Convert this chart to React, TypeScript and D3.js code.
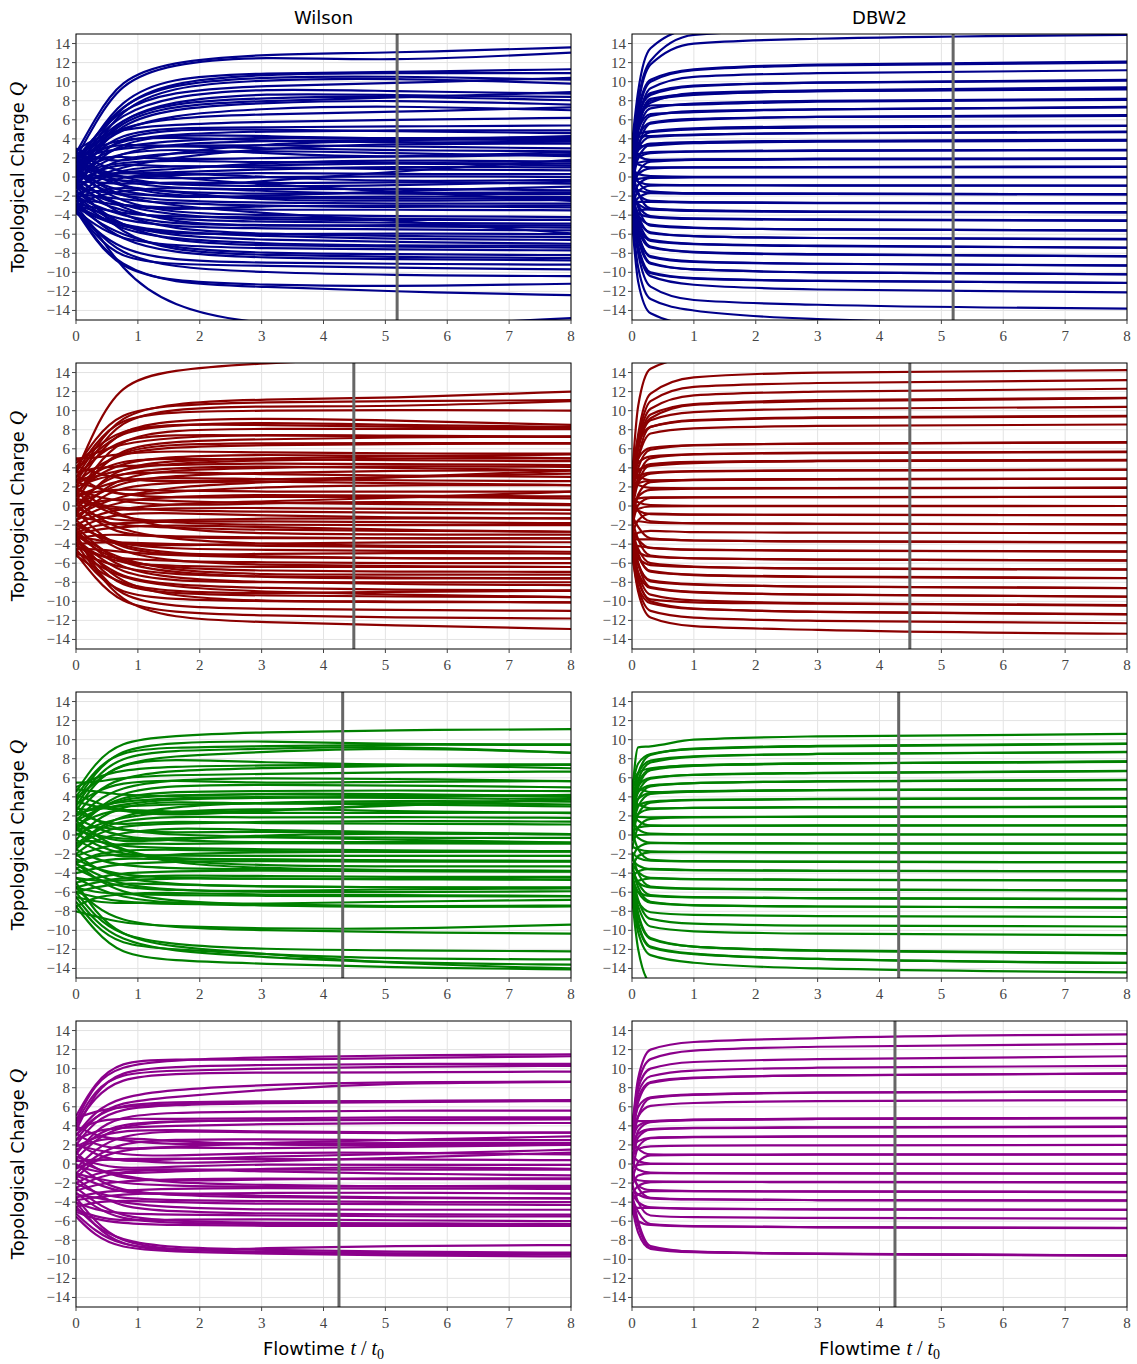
import React from 'react';
import * as d3 from 'd3';

const wilsonT = [0, 0.3, 0.7, 1.5, 3, 5, 8];
const dbw2T = [0, 0.1, 0.3, 1, 3, 8];

const xTicks = [0, 1, 2, 3, 4, 5, 6, 7, 8];
const yTicks = [-14, -12, -10, -8, -6, -4, -2, 0, 2, 4, 6, 8, 10, 12, 14];
const columnTitles = ['Wilson', 'DBW2'];
const vlineT = [5.19, 4.49, 4.31, 4.25];
const rowColors = ['#00008b', '#8b0000', '#008000', '#8b008b'];

const wilsonBlue = [
  [2.5, 6, 10.2, 12.1, 12.9, 13.0, 13.6],
  [2.0, 5.5, 9.8, 11.9, 12.7, 12.1, 13.05],
  [1.5, 4, 8, 10.5, 10.9, 11, 11.3],
  [1, 3.5, 7.5, 10, 10.8, 10.9, 10.9],
  [2, 4, 7.5, 9.8, 10.5, 10.6, 10.2],
  [0.5, 3, 7, 9.5, 10.2, 10.4, 9.8],
  [1.5, 3.8, 6.5, 8.5, 9.3, 9.0, 8.75],
  [0, 3, 6, 8, 8.8, 8.6, 8.4],
  [1, 3.5, 6, 7.8, 8.3, 8.5, 8.05],
  [-0.5, 2.5, 5.5, 7.2, 7.8, 8.1, 7.6],
  [0.5, 3, 5, 6.5, 7.2, 7.5, 7.0],
  [2.8, 4, 5, 5.5, 5.8, 6, 6.2],
  [0, 2.5, 4.5, 5.2, 5.2, 5.3, 5.4],
  [1, 2.5, 3.8, 4.5, 4.8, 4.9, 4.9],
  [-1, 1.5, 3.5, 4.5, 4.3, 4.0, 4.2],
  [0.5, 2, 3.2, 3.8, 4.2, 4.0, 3.85],
  [2, 2.8, 3.5, 3.2, 3.4, 3.2, 3.0],
  [-1.5, 0.5, 2, 2.5, 2.8, 2.5, 2.2],
  [1.5, 2, 2.2, 1.8, 2.0, 2.1, 2.6],
  [0, 1, 1.5, 1.8, 1.5, 1.5, 1.4],
  [-2, -0.5, 0.8, 1.2, 1.0, 0.8, 0.7],
  [1, 0.5, 0.3, 0.5, 0.8, 1.1, 1.0],
  [0, 0.2, 0, -0.2, 0, 0.1, 0],
  [-0.5, -0.5, -0.8, -0.5, -0.7, -0.5, -0.7],
  [2, 0.5, -0.5, -1.2, -1.3, -1.2, -1.4],
  [-1, -1.5, -1.8, -2.0, -2.2, -2.0, -2.1],
  [0.5, -1, -2, -2.5, -2.7, -2.8, -2.8],
  [-2.5, -2.5, -3, -3.2, -3.5, -3.4, -3.5],
  [1, -1, -2.5, -3.8, -4.0, -4.1, -4.2],
  [-1.5, -2.5, -3.5, -4.5, -4.7, -4.8, -4.9],
  [-3, -3.5, -4.5, -5.2, -5.4, -5.5, -5.6],
  [-0.5, -2, -4, -5.5, -6, -6.2, -6.3],
  [-2, -3.5, -5, -6.2, -6.6, -6.8, -7.0],
  [-3.5, -5, -6.5, -7.2, -7.5, -7.6, -7.7],
  [-3, -4.5, -6, -7.5, -8.0, -8.1, -8.2],
  [-2.5, -4.5, -6.5, -8, -8.5, -8.6, -8.75],
  [-3.5, -6, -8.5, -9.2, -9.3, -9.5, -9.7],
  [-3, -5.5, -8, -9.5, -10, -10.3, -10.4],
  [-3.5, -6.5, -9.5, -11, -11.3, -11.5, -11.2],
  [-3.2, -6.5, -9.2, -11.2, -11.5, -12, -12.4],
  [-3.8, -5.2, -9.5, -13.7, -15.6, -15.8, -14.8],
  [3, 2, 1.5, 2.5, 3.5, 3.8, 4.3],
  [-1, 0, 1, 2, 3, 3.5, 3.5],
  [1.5, 1, 0, -1, -0.5, 0.5, 1.8],
  [-2, -1, 0, 0.5, 0, -0.5, -0.3],
  [0.5, 1.5, 2.5, 3, 2.5, 2.0, 2.4],
  [-3, -2, -1.5, -1, -1.5, -1.8, -1.8],
  [2.5, 1.5, 0.5, 0, -0.8, -1.5, -2.5],
  [-1, -2, -3, -3.5, -3, -3.0, -3.2],
  [0, -1.5, -3, -4, -4.5, -4.5, -4.5],
  [-2, -3, -4, -5, -5, -5.2, -5.3],
  [1, -0.5, -2, -3, -3.8, -4.5, -5.9],
  [-3, -4, -5, -5.8, -6.2, -6.5, -6.6],
  [-1.5, -3, -5, -6.8, -7.2, -7.3, -7.4],
  [2, 3, 4, 4.2, 3.8, 3.6, 3.7],
  [0, 1, 2.5, 3.5, 3.8, 3.9, 4.0],
  [-0.5, 0.5, 1.5, 1.0, 1.2, 1.5, 1.2],
  [1.2, 0.8, -0.2, 0.2, 0.5, 0.3, 0.3],
  [-2.2, -1.5, -1.0, -1.5, -2.5, -2.5, -2.4],
  [0.8, -0.5, -1.5, -2.2, -2, -1.5, -1.0],
  [1.8, 4.2, 7.0, 9.0, 9.6, 9.8, 10.4],
  [0.2, 2.8, 5.8, 7.5, 8.0, 8.3, 8.9],
  [2.2, 3.5, 5.2, 6.2, 6.6, 6.8, 7.3],
  [-0.8, 1.8, 4.2, 5.0, 5.0, 4.8, 4.6],
  [1.6, 2.5, 3.0, 3.3, 3.0, 2.8, 2.7],
  [-1.2, 0.0, 0.5, 0.8, 1.5, 1.8, 1.6],
  [0.3, -0.2, -0.3, -0.8, -1.0, -0.9, -0.5],
  [-1.8, -2.0, -2.3, -2.8, -3.0, -3.2, -3.0],
  [2.6, 1.0, -1.0, -2.0, -2.2, -2.3, -2.2],
  [-2.8, -3.2, -3.8, -4.2, -4.2, -4.4, -4.5],
  [-0.2, -1.5, -3.2, -4.8, -5.2, -5.0, -5.1],
  [-3.2, -4.2, -5.2, -6.0, -6.0, -5.9, -6.0],
  [-2.2, -3.8, -5.5, -6.5, -7.0, -7.2, -7.2],
  [-1.0, -3.0, -5.8, -7.8, -8.2, -8.4, -8.5],
  [-3.6, -5.5, -7.5, -8.8, -9.0, -9.1, -9.2],
  [1.3, 0.2, -1.0, -1.6, -1.8, -1.7, -1.6],
];

const dbw2Blue = [
  [3.5, 9, 13.5, 15.6, 16.2, 16.6],
  [2.8, 8, 12.2, 14.9, 15.5, 15.9],
  [2.2, 7.5, 11.8, 14.0, 14.5, 14.9],
  [3.0, 7, 10.2, 11.3, 11.8, 12.1],
  [1.8, 6.5, 10.0, 11.2, 11.7, 12.0],
  [2.5, 6, 9.3, 10.5, 10.9, 11.2],
  [1.5, 6, 8.8, 9.6, 9.9, 10.2],
  [3.2, 6.5, 8.6, 9.5, 9.9, 10.1],
  [2.0, 5.5, 8.2, 8.7, 9.0, 9.3],
  [0.8, 5, 8.0, 8.6, 9.0, 9.2],
  [2.6, 5.8, 7.8, 8.8, 9.1, 9.4],
  [1.2, 4.8, 7.2, 7.7, 8.0, 8.2],
  [3.5, 6, 7.5, 7.6, 7.9, 8.1],
  [0.5, 4, 6.4, 6.9, 7.1, 7.35],
  [2.2, 5, 6.6, 6.8, 7.1, 7.3],
  [1.6, 4.2, 5.7, 6.1, 6.3, 6.5],
  [-0.5, 3, 5.6, 6.0, 6.3, 6.4],
  [2.8, 4.5, 4.8, 5.1, 5.3, 5.4],
  [0.2, 3.5, 4.7, 5.0, 5.2, 5.35],
  [1.0, 3, 4.2, 4.4, 4.6, 4.7],
  [3.8, 4.2, 4.3, 4.45, 4.6, 4.75],
  [-1.0, 2, 3.4, 3.6, 3.75, 3.85],
  [1.4, 2.8, 3.5, 3.65, 3.8, 3.9],
  [2.9, 3.2, 3.3, 3.55, 3.7, 3.8],
  [-0.3, 2, 2.5, 2.65, 2.75, 2.8],
  [1.5, 2.4, 2.6, 2.7, 2.8, 2.85],
  [-2.0, 0.5, 1.6, 1.8, 1.85, 1.9],
  [0.8, 1.5, 1.7, 1.8, 1.9, 1.95],
  [3.0, 2.2, 1.8, 1.85, 1.9, 1.9],
  [-1.2, 0.3, 0.9, 1.0, 1.02, 1.05],
  [2.0, 1.3, 1.0, 1.0, 1.05, 1.1],
  [-0.8, -0.2, -0.05, 0, 0, 0],
  [1.0, 0.3, 0.1, 0.02, 0.02, 0.02],
  [-2.5, -0.8, -0.1, -0.05, -0.05, -0.05],
  [0.5, -0.5, -0.8, -0.85, -0.88, -0.9],
  [-3.0, -1.5, -0.9, -0.88, -0.9, -0.92],
  [-1.0, -1.4, -1.65, -1.72, -1.76, -1.8],
  [1.8, -0.5, -1.5, -1.7, -1.75, -1.82],
  [-3.5, -2.2, -1.7, -1.75, -1.78, -1.8],
  [-0.5, -1.8, -2.5, -2.62, -2.7, -2.75],
  [-2.8, -2.6, -2.6, -2.7, -2.75, -2.78],
  [0.5, -1.6, -3.3, -3.5, -3.62, -3.7],
  [-2.0, -2.8, -3.4, -3.55, -3.65, -3.72],
  [-3.8, -3.5, -3.4, -3.55, -3.65, -3.68],
  [-1.5, -3, -4.1, -4.35, -4.45, -4.55],
  [-3.2, -3.8, -4.2, -4.4, -4.5, -4.6],
  [-2.5, -4, -5.0, -5.3, -5.5, -5.6],
  [-0.8, -3.2, -5.1, -5.35, -5.5, -5.62],
  [-3.0, -4.5, -5.8, -6.2, -6.4, -6.5],
  [-1.8, -4, -5.9, -6.2, -6.4, -6.55],
  [-3.6, -5.2, -6.7, -7.05, -7.25, -7.4],
  [-2.2, -4.5, -6.6, -7.0, -7.2, -7.42],
  [-3.0, -5.5, -7.4, -7.9, -8.15, -8.3],
  [-1.5, -4.8, -7.3, -7.85, -8.1, -8.32],
  [-3.8, -6.2, -8.3, -8.85, -9.1, -9.3],
  [-2.6, -5.8, -8.4, -8.9, -9.1, -9.28],
  [-3.2, -6.5, -9.1, -9.7, -10.0, -10.2],
  [-2.0, -6, -9.0, -9.7, -10.0, -10.22],
  [-3.5, -7.2, -10.0, -10.6, -10.9, -11.1],
  [-4.0, -7.5, -10.1, -10.65, -10.9, -11.12],
  [-3.3, -7.5, -10.4, -11.3, -11.8, -12.1],
  [-3.7, -8, -11.5, -12.9, -13.4, -13.8],
  [-4.2, -9.5, -12.8, -14.0, -14.9, -15.5],
  [-4.5, -11, -14.3, -15.5, -16, -16.3],
];

const wilsonRed = [
  [3.5, 8.0, 12.8, 14.3, 15.0, 15.5, 16.0],
  [3.0, 6.0, 9.5, 10.8, 11.2, 11.3, 12.0],
  [4.0, 7.0, 9.8, 10.6, 10.9, 11.0, 11.1],
  [2.5, 5.5, 9.0, 10.2, 10.5, 10.4, 11.0],
  [3.5, 6.5, 9.2, 9.9, 10.0, 10.1, 10.0],
  [2.0, 5.0, 8.0, 9.0, 9.2, 9.0, 8.5],
  [4.5, 6.0, 8.0, 8.6, 8.5, 8.3, 8.2],
  [1.0, 4.0, 7.0, 8.0, 8.1, 8.1, 8.05],
  [3.0, 5.0, 7.0, 7.5, 7.4, 7.3, 7.25],
  [0.5, 3.5, 6.0, 6.8, 7.0, 7.2, 7.3],
  [2.5, 4.0, 5.5, 6.2, 6.4, 6.5, 6.55],
  [5.0, 5.0, 5.5, 5.8, 5.6, 5.5, 5.5],
  [1.5, 3.0, 4.5, 5.2, 5.4, 5.3, 5.0],
  [-0.5, 2.0, 4.0, 4.8, 5.0, 5.2, 5.4],
  [3.5, 4.0, 4.2, 4.3, 4.5, 4.4, 4.3],
  [0.0, 2.0, 3.5, 4.0, 4.2, 4.0, 3.75],
  [2.0, 2.8, 3.4, 3.6, 3.3, 3.2, 3.05],
  [4.2, 3.5, 2.8, 2.5, 2.8, 3.0, 3.4],
  [-1.5, 0.5, 2.0, 2.5, 2.6, 2.4, 2.2],
  [1.0, 1.5, 1.8, 1.6, 1.5, 1.5, 1.5],
  [2.5, 2.0, 1.2, 0.8, 1.0, 1.0, 0.8],
  [-0.5, 0.5, 0.8, 0.5, 0.3, 0.2, 0.1],
  [0.8, 0.2, -0.2, -0.5, -0.6, -0.7, -0.8],
  [-2.5, -1.5, -0.8, -0.7, -1.0, -1.2, -1.3],
  [1.5, 0.0, -1.2, -1.8, -2.0, -2.0, -2.0],
  [-1.0, -1.5, -2.0, -2.3, -2.5, -2.6, -2.7],
  [-3.5, -3.0, -3.0, -3.2, -3.3, -3.4, -3.4],
  [0.5, -1.0, -2.5, -3.5, -4.0, -4.2, -4.3],
  [-2.0, -3.0, -4.0, -4.5, -4.6, -4.7, -4.8],
  [-4.5, -4.5, -4.8, -5.2, -5.4, -5.5, -5.5],
  [-1.5, -3.0, -4.8, -5.8, -6.2, -6.3, -6.4],
  [-3.0, -4.5, -5.8, -6.5, -6.8, -6.9, -6.9],
  [-5.0, -5.5, -6.5, -7.2, -7.4, -7.5, -7.6],
  [-2.5, -4.5, -6.5, -7.6, -8.0, -8.2, -8.3],
  [-4.0, -5.5, -7.5, -8.3, -8.6, -8.8, -8.85],
  [-3.5, -6.0, -8.5, -9.2, -9.4, -9.5, -9.55],
  [-4.5, -7.0, -9.2, -9.8, -10.0, -10.1, -10.1],
  [-3.0, -6.5, -9.5, -10.6, -10.8, -10.9, -11.0],
  [-5.0, -7.5, -10.2, -11.2, -11.5, -11.7, -11.8],
  [-4.0, -6.5, -10.0, -11.8, -12.2, -12.5, -12.9],
  [2.8, 3.0, 3.8, 4.5, 4.8, 5.0, 5.0],
  [-1.0, 0.0, 1.0, 2.0, 2.5, 3.0, 3.7],
  [1.8, 1.0, 0.5, 0.0, 0.3, 0.5, 0.2],
  [-2.0, -1.0, -0.3, 0.2, 0.5, 0.8, 1.5],
  [3.2, 2.0, 1.0, 1.5, 2.0, 2.2, 2.2],
  [-0.2, -1.0, -1.6, -1.5, -1.3, -1.3, -1.3],
  [-3.0, -2.5, -2.2, -2.0, -2.2, -2.5, -2.7],
  [0.2, -1.5, -3.0, -3.3, -3.4, -3.4, -3.4],
  [-4.0, -3.8, -3.8, -4.0, -4.2, -4.3, -4.3],
  [-1.8, -3.0, -4.2, -5.0, -5.3, -5.5, -5.5],
  [-3.8, -5.0, -6.0, -6.3, -6.4, -6.4, -6.4],
  [-2.2, -4.0, -6.0, -7.0, -7.5, -7.6, -7.6],
  [4.8, 5.5, 6.5, 7.2, 7.5, 7.4, 7.25],
  [0.2, 1.0, 2.5, 3.2, 3.5, 3.7, 3.75],
  [-4.8, -6.0, -7.5, -8.5, -9.0, -9.3, -9.55],
  [-3.2, -5.5, -8.0, -9.5, -10.0, -10.0, -10.1],
  [3.8, 5.5, 7.8, 8.5, 8.8, 8.5, 8.3],
  [1.2, 3.5, 5.8, 6.5, 6.6, 6.6, 6.6],
  [2.2, 3.5, 4.8, 5.0, 4.9, 4.8, 4.7],
  [-0.8, 1.0, 3.0, 3.8, 4.0, 4.2, 4.1],
  [1.0, 1.8, 2.8, 3.0, 2.8, 2.7, 2.6],
  [-1.5, -0.5, 0.5, 1.0, 1.2, 1.1, 1.0],
  [0.6, 0.0, -0.5, -0.2, -0.2, -0.3, -0.4],
  [-2.8, -2.0, -1.8, -1.6, -1.6, -1.7, -1.8],
  [2.0, 0.5, -1.0, -2.5, -2.9, -3.0, -3.0],
  [-3.2, -3.5, -4.0, -4.2, -3.9, -3.8, -3.8],
  [-0.5, -2.5, -4.5, -5.2, -5.0, -4.9, -5.0],
  [-4.2, -5.2, -5.5, -5.8, -5.9, -6.0, -6.0],
  [-2.8, -4.2, -5.5, -6.8, -7.2, -7.2, -7.2],
  [-3.5, -5.0, -7.0, -7.9, -8.0, -8.0, -8.0],
  [-5.2, -6.5, -8.2, -9.0, -9.2, -9.0, -8.9],
];

const dbw2Red = [
  [3.0, 10.5, 14.4, 15.6, 16.0, 16.3],
  [2.5, 7.5, 11.8, 13.5, 14.0, 14.25],
  [3.5, 7.2, 11.0, 12.5, 12.9, 13.2],
  [2.0, 6.5, 10.2, 11.6, 12.0, 12.3],
  [1.2, 6, 9.6, 10.7, 11.1, 11.35],
  [3.0, 6.5, 9.2, 10.6, 11.0, 11.3],
  [2.6, 6, 9.0, 9.85, 10.2, 10.4],
  [0.8, 5, 8.3, 9.0, 9.3, 9.45],
  [3.8, 6.5, 8.3, 8.95, 9.25, 9.4],
  [2.2, 5, 7.6, 8.15, 8.4, 8.55],
  [1.5, 4, 5.9, 6.35, 6.55, 6.65],
  [3.2, 5, 6.1, 6.4, 6.55, 6.7],
  [0.5, 3, 5.0, 5.4, 5.55, 5.65],
  [2.8, 4.5, 5.2, 5.45, 5.6, 5.7],
  [-0.5, 2.5, 4.3, 4.6, 4.72, 4.8],
  [1.8, 3.6, 4.4, 4.62, 4.75, 4.85],
  [3.6, 3.8, 4.2, 4.5, 4.7, 4.78],
  [0.2, 2.5, 3.4, 3.62, 3.72, 3.8],
  [2.4, 3.1, 3.5, 3.65, 3.75, 3.82],
  [-1.5, 1.2, 2.5, 2.72, 2.8, 2.85],
  [1.6, 2.4, 2.65, 2.75, 2.82, 2.88],
  [4.2, 3.2, 2.7, 2.75, 2.82, 2.86],
  [-0.8, 1, 1.7, 1.82, 1.87, 1.9],
  [2.8, 2.2, 1.9, 1.85, 1.88, 1.92],
  [0.6, 0.8, 0.9, 0.92, 0.94, 0.95],
  [-2.2, 0.1, 0.85, 0.9, 0.93, 0.96],
  [1.0, 0.4, 0.1, 0.02, 0.01, 0],
  [-1.2, -0.3, -0.05, -0.02, -0.01, 0],
  [-3.0, -1.5, -0.8, -0.9, -0.93, -0.95],
  [0.3, -0.5, -0.85, -0.9, -0.93, -0.96],
  [-2.0, -1.6, -1.75, -1.82, -1.86, -1.9],
  [1.5, -0.5, -1.6, -1.8, -1.86, -1.92],
  [-4.0, -2.8, -2.6, -2.75, -2.8, -2.85],
  [-1.0, -2.2, -3.4, -3.62, -3.72, -3.8],
  [-3.5, -3.5, -3.5, -3.62, -3.72, -3.82],
  [-2.5, -3.5, -4.4, -4.6, -4.7, -4.75],
  [-4.5, -4.2, -4.4, -4.58, -4.68, -4.78],
  [-1.5, -3.5, -5.2, -5.48, -5.62, -5.7],
  [-3.8, -4.8, -5.3, -5.5, -5.62, -5.72],
  [-2.8, -4.5, -6.0, -6.35, -6.55, -6.65],
  [-4.8, -5.5, -6.2, -6.4, -6.56, -6.68],
  [-3.2, -5.2, -6.8, -7.2, -7.4, -7.55],
  [-2.0, -5, -6.9, -7.25, -7.45, -7.58],
  [-4.2, -6.2, -7.8, -8.2, -8.45, -8.6],
  [-3.0, -6, -7.9, -8.25, -8.45, -8.62],
  [-4.6, -7, -8.6, -9.05, -9.3, -9.5],
  [-2.5, -6, -8.5, -9.0, -9.3, -9.52],
  [-3.8, -7, -9.3, -9.9, -10.2, -10.4],
  [-4.4, -7.8, -9.8, -10.1, -10.25, -10.45],
  [-3.5, -7.5, -10.0, -10.75, -11.1, -11.35],
  [-4.8, -8.5, -10.2, -10.8, -11.1, -11.38],
  [-4.0, -8.5, -11.0, -11.7, -12.05, -12.3],
  [-5.0, -9, -11.7, -12.6, -13.0, -13.4],
];

const wilsonGreen = [
  [4.5, 7.5, 9.8, 10.4, 10.8, 11.0, 11.1],
  [3.5, 6.5, 9.0, 9.7, 9.9, 9.5, 9.5],
  [4.0, 6.8, 8.8, 9.2, 9.3, 9.5, 9.45],
  [3.0, 6.0, 8.2, 8.9, 9.0, 9.4, 8.6],
  [2.5, 5.5, 7.5, 8.3, 8.7, 9.2, 8.65],
  [5.0, 6.0, 6.8, 7.2, 7.3, 7.4, 7.4],
  [2.0, 4.5, 6.0, 6.8, 7.0, 7.3, 7.35],
  [5.5, 5.5, 6.0, 6.3, 6.4, 6.6, 6.65],
  [1.5, 3.5, 5.0, 5.8, 6.0, 5.9, 5.65],
  [3.2, 4.5, 5.5, 5.8, 5.4, 5.6, 5.65],
  [0.5, 2.5, 4.0, 4.6, 4.6, 4.7, 4.6],
  [4.8, 4.6, 4.2, 4.0, 4.4, 4.3, 4.1],
  [2.0, 3.0, 3.5, 3.9, 4.0, 3.9, 3.75],
  [-0.5, 1.5, 3.0, 3.6, 3.2, 3.4, 3.2],
  [3.5, 3.0, 2.5, 2.2, 2.6, 3.0, 3.8],
  [1.0, 2.0, 2.8, 2.4, 2.3, 2.3, 2.35],
  [-1.5, 0.5, 1.5, 2.0, 1.8, 1.9, 1.8],
  [2.5, 1.5, 1.0, 1.5, 1.2, 1.2, 1.1],
  [0.5, 1.0, 0.5, 0.2, 0.4, 0.2, 0.05],
  [-2.0, -0.5, 0.2, 0.8, 0.5, 0.3, 0.1],
  [1.8, 0.8, -0.2, -0.6, -0.8, -0.7, -0.8],
  [-0.8, -0.5, -1.2, -1.4, -1.5, -1.6, -1.7],
  [-3.0, -2.0, -1.6, -1.5, -1.7, -1.8, -1.7],
  [0.2, -1.0, -2.0, -2.5, -2.6, -2.7, -2.75],
  [-4.0, -3.5, -3.0, -2.8, -2.7, -2.8, -2.8],
  [-1.5, -2.5, -3.2, -3.5, -3.6, -3.7, -3.8],
  [-5.0, -4.5, -4.0, -3.8, -3.7, -3.8, -3.85],
  [-2.5, -3.5, -4.2, -4.5, -4.6, -4.6, -4.65],
  [-6.0, -5.5, -5.0, -5.2, -5.4, -5.5, -5.55],
  [-3.5, -4.5, -5.5, -5.8, -5.9, -5.7, -5.6],
  [-7.5, -6.5, -6.2, -6.0, -6.3, -6.3, -6.4],
  [-4.5, -5.5, -6.5, -7.2, -7.4, -7.5, -7.45],
  [-6.5, -7.0, -7.2, -7.0, -7.4, -7.6, -7.5],
  [-8.0, -8.5, -9.2, -9.6, -9.8, -9.9, -9.4],
  [-5.5, -7.5, -9.0, -9.7, -10.0, -10.2, -10.35],
  [-6.0, -8.5, -10.5, -11.5, -12.0, -12.1, -12.2],
  [-7.0, -9.5, -11.5, -12.0, -12.5, -13.0, -13.05],
  [-6.5, -9.0, -11.0, -12.2, -12.8, -13.4, -13.6],
  [-7.5, -10.0, -12.5, -13.2, -13.5, -13.9, -14.1],
  [-5.0, -8.0, -10.5, -11.8, -12.4, -13.5, -14.0],
  [2.8, 2.5, 3.2, 3.8, 3.9, 4.0, 4.2],
  [-1.0, 0.5, 2.0, 3.0, 3.4, 3.6, 3.5],
  [1.2, 0.0, -0.8, -0.5, 0.0, 0.2, 0.1],
  [-2.2, -1.5, -0.8, -1.0, -0.8, -0.9, -0.9],
  [3.0, 1.5, 0.5, 0.0, -0.2, -0.5, -0.8],
  [-0.5, -1.5, -2.5, -2.0, -1.8, -1.7, -1.75],
  [-3.5, -2.8, -2.4, -2.6, -2.5, -2.7, -2.7],
  [0.8, -0.5, -1.5, -3.0, -3.5, -3.7, -3.75],
  [-4.5, -4.8, -4.8, -4.5, -4.6, -4.65, -4.7],
  [-2.0, -3.5, -4.5, -5.2, -5.4, -5.5, -5.5],
  [-5.5, -6.0, -6.2, -6.3, -6.4, -6.4, -6.45],
  [-3.0, -4.5, -6.0, -7.0, -7.3, -7.5, -7.4],
  [1.5, 2.5, 3.8, 4.2, 4.3, 4.2, 4.0],
  [4.2, 3.5, 2.5, 2.0, 2.5, 3.2, 3.7],
  [0.0, 1.0, 1.8, 2.5, 2.8, 2.5, 2.3],
  [3.8, 5.5, 7.5, 8.0, 7.6, 7.4, 7.0],
  [0.8, 2.5, 4.5, 5.2, 5.3, 5.2, 5.0],
  [2.2, 2.8, 3.0, 3.2, 3.4, 3.2, 3.0],
  [-1.2, 0.0, 1.0, 1.2, 1.4, 1.5, 1.4],
  [0.5, 0.0, -0.5, -0.3, -0.2, -0.3, -0.3],
  [-2.8, -2.2, -2.0, -2.2, -2.2, -2.2, -2.2],
  [1.5, 0.0, -1.5, -2.8, -3.2, -3.3, -3.3],
  [-5.5, -5.0, -4.5, -4.2, -4.3, -4.4, -4.4],
  [-3.0, -4.0, -5.2, -5.8, -6.0, -6.0, -5.9],
  [-6.0, -6.5, -7.0, -7.3, -7.2, -7.0, -6.8],
];

const dbw2Green = [
  [4.0, 9.2, 9.3, 10.0, 10.35, 10.6],
  [3.0, 6.5, 8.4, 9.05, 9.35, 9.6],
  [5.0, 7.5, 8.5, 9.0, 9.3, 9.55],
  [2.5, 5.8, 7.6, 8.2, 8.5, 8.7],
  [4.5, 6.5, 7.8, 8.25, 8.5, 8.72],
  [1.5, 5, 6.8, 7.25, 7.5, 7.7],
  [3.5, 5.5, 6.9, 7.3, 7.5, 7.72],
  [5.5, 6.5, 7.0, 7.3, 7.52, 7.68],
  [2.0, 4.5, 5.9, 6.3, 6.5, 6.7],
  [4.2, 5.2, 6.0, 6.32, 6.52, 6.72],
  [1.0, 3.8, 5.1, 5.45, 5.62, 5.75],
  [3.0, 4.5, 5.2, 5.45, 5.62, 5.78],
  [0.5, 3, 4.3, 4.55, 4.7, 4.8],
  [2.6, 3.8, 4.4, 4.58, 4.7, 4.82],
  [4.8, 4.8, 4.5, 4.6, 4.72, 4.8],
  [-0.5, 2.2, 3.4, 3.65, 3.76, 3.85],
  [2.0, 3.1, 3.5, 3.68, 3.78, 3.87],
  [1.2, 2.2, 2.7, 2.84, 2.9, 2.95],
  [3.5, 3.2, 2.8, 2.86, 2.92, 2.97],
  [-1.5, 0.8, 1.7, 1.86, 1.91, 1.95],
  [1.5, 1.9, 1.85, 1.88, 1.92, 1.96],
  [0.2, 0.8, 0.95, 0.97, 0.99, 1.0],
  [2.5, 1.5, 1.0, 0.98, 1.0, 1.02],
  [-0.6, 0, 0.05, 0.05, 0.05, 0.05],
  [1.8, 0.6, 0.15, 0.08, 0.06, 0.05],
  [-2.5, -1.3, -0.85, -0.87, -0.89, -0.9],
  [0.6, -0.3, -0.8, -0.86, -0.89, -0.92],
  [-1.2, -1.5, -1.72, -1.78, -1.82, -1.85],
  [-3.5, -2.2, -1.8, -1.8, -1.83, -1.86],
  [-1.8, -2.4, -2.7, -2.77, -2.82, -2.85],
  [0.5, -1.5, -2.6, -2.75, -2.8, -2.86],
  [-4.5, -3.8, -3.55, -3.68, -3.75, -3.8],
  [-2.5, -3.2, -3.6, -3.7, -3.76, -3.82],
  [-3.0, -3.9, -4.5, -4.62, -4.7, -4.75],
  [-5.0, -4.8, -4.55, -4.64, -4.7, -4.77],
  [-2.0, -4, -5.4, -5.62, -5.72, -5.8],
  [-4.0, -5, -5.5, -5.65, -5.74, -5.82],
  [-3.5, -5, -6.3, -6.52, -6.62, -6.7],
  [-5.5, -6, -6.4, -6.55, -6.64, -6.72],
  [-4.5, -6, -7.1, -7.38, -7.5, -7.6],
  [-3.0, -5.5, -7.0, -7.35, -7.5, -7.62],
  [-5.0, -7, -8.1, -8.38, -8.5, -8.6],
  [-4.0, -6.8, -8.8, -9.3, -9.5, -9.6],
  [-5.2, -7.5, -9.6, -10.1, -10.35, -10.5],
  [-5.5, -8.5, -10.9, -11.7, -12.1, -12.4],
  [-4.8, -8.2, -10.8, -11.7, -12.15, -12.45],
  [-6.0, -9.5, -11.8, -12.5, -13.0, -13.4],
  [-5.0, -9.2, -11.7, -12.45, -13.0, -13.42],
  [-6.2, -10.2, -12.6, -13.4, -14.0, -14.4],
  [-6.5, -12, -15.5, -16.5, -17, -17],
];

const wilsonPurple = [
  [4.5, 8.5, 10.3, 10.9, 11.2, 11.4, 11.5],
  [5.0, 8.5, 10.8, 11.0, 10.9, 11.1, 11.3],
  [3.5, 7.5, 9.8, 10.2, 10.4, 10.5, 10.5],
  [4.0, 7.0, 9.0, 9.5, 9.6, 9.6, 9.7],
  [2.5, 5.0, 6.5, 7.0, 7.8, 8.5, 8.6],
  [3.0, 5.5, 7.0, 7.8, 8.3, 8.6, 8.65],
  [2.0, 4.5, 5.8, 6.2, 6.4, 6.5, 6.6],
  [4.8, 5.5, 6.0, 6.3, 6.5, 6.6, 6.7],
  [1.0, 3.5, 5.0, 5.4, 5.5, 5.6, 5.6],
  [3.5, 4.5, 4.8, 4.7, 4.8, 4.9, 4.9],
  [0.5, 2.5, 4.0, 4.5, 4.6, 4.6, 4.7],
  [2.5, 3.5, 3.8, 4.0, 4.2, 4.3, 4.3],
  [-0.5, 1.5, 3.0, 3.5, 3.3, 3.2, 3.3],
  [4.0, 3.0, 2.5, 2.0, 2.2, 2.5, 2.9],
  [1.5, 2.5, 2.8, 2.4, 2.0, 2.0, 2.0],
  [-1.5, 0.5, 1.5, 1.8, 1.6, 1.8, 2.0],
  [2.0, 1.5, 1.0, 0.8, 1.2, 1.2, 1.0],
  [-0.5, 0.5, 0.5, 0.0, 0.3, 0.6, 1.2],
  [0.8, 0.0, -0.5, -0.3, 0.0, -0.1, -0.1],
  [-2.5, -1.5, -0.8, -0.5, -0.8, -1.0, -1.2],
  [1.2, -0.5, -1.5, -1.8, -1.6, -1.5, -1.5],
  [-1.0, -1.5, -2.0, -2.3, -2.4, -2.3, -2.3],
  [-3.5, -3.0, -2.8, -2.6, -2.5, -2.6, -2.6],
  [0.0, -1.5, -2.8, -3.3, -3.5, -3.6, -3.6],
  [-2.0, -3.0, -3.6, -3.8, -3.9, -4.0, -4.0],
  [-4.5, -4.0, -3.8, -4.0, -4.2, -4.2, -4.3],
  [-1.5, -3.0, -4.5, -5.0, -5.2, -5.3, -5.3],
  [-4.0, -4.8, -5.2, -5.3, -5.4, -5.5, -5.5],
  [-3.0, -4.5, -5.8, -6.2, -6.3, -6.3, -6.4],
  [-5.0, -5.8, -6.2, -6.4, -6.5, -6.5, -6.5],
  [-4.5, -6.5, -8.0, -8.8, -9.0, -9.2, -9.3],
  [-3.5, -6.0, -8.2, -9.0, -9.3, -9.5, -9.5],
  [-5.5, -7.5, -8.8, -9.2, -9.4, -9.6, -9.7],
  [-4.0, -6.5, -8.5, -9.2, -8.8, -8.6, -8.5],
  [2.2, 1.0, 0.2, 0.5, 0.8, 1.0, 1.5],
  [-0.2, -0.8, -1.0, -0.8, -0.5, -0.3, -0.5],
  [3.2, 2.0, 1.5, 1.8, 2.2, 2.2, 2.2],
  [-2.8, -2.2, -1.8, -1.6, -1.5, -1.6, -1.6],
  [1.8, 2.8, 3.5, 3.6, 3.4, 3.3, 3.3],
  [-3.8, -3.5, -3.2, -3.0, -3.4, -3.5, -3.6],
  [0.5, -0.5, -1.2, -2.0, -2.2, -2.4, -2.4],
  [-1.2, -2.0, -3.0, -3.2, -3.0, -3.0, -3.1],
  [4.2, 7.8, 9.5, 9.8, 10.0, 10.2, 10.3],
  [3.0, 5.0, 6.2, 6.5, 6.6, 6.6, 6.65],
  [1.2, 3.0, 4.2, 4.5, 4.6, 4.7, 4.7],
  [-1.0, 0.8, 2.2, 2.6, 2.6, 2.5, 2.5],
  [0.3, 0.5, 0.5, 0.6, 0.5, 0.5, 0.4],
  [-2.0, -1.0, -0.5, -0.6, -0.6, -0.6, -0.6],
  [-3.2, -3.5, -4.0, -4.6, -4.8, -4.8, -4.8],
  [-4.8, -5.5, -6.0, -5.8, -5.8, -5.9, -6.0],
  [-2.5, -4.0, -5.5, -6.0, -6.2, -6.2, -6.3],
  [-5.2, -7.0, -8.5, -9.0, -9.2, -9.4, -9.4],
];

const dbw2Purple = [
  [3.5, 9, 12.0, 12.8, 13.2, 13.6],
  [3.0, 8.5, 11.0, 11.9, 12.3, 12.6],
  [2.5, 8, 10.0, 10.7, 11.0, 11.3],
  [4.0, 7.5, 9.2, 9.8, 10.1, 10.3],
  [2.0, 6.5, 8.5, 9.0, 9.3, 9.5],
  [3.8, 7, 8.6, 9.05, 9.3, 9.48],
  [3.0, 6, 7.0, 7.3, 7.5, 7.6],
  [1.8, 5, 6.9, 7.25, 7.48, 7.62],
  [2.6, 5, 6.1, 6.4, 6.6, 6.7],
  [0.5, 3.5, 4.4, 4.6, 4.72, 4.8],
  [2.5, 4.0, 4.5, 4.62, 4.74, 4.82],
  [4.2, 4.5, 4.5, 4.65, 4.75, 4.85],
  [0.0, 2.8, 3.6, 3.75, 3.83, 3.9],
  [2.0, 3.2, 3.65, 3.78, 3.85, 3.92],
  [-1.0, 1.8, 2.7, 2.82, 2.88, 2.92],
  [1.5, 2.4, 2.75, 2.84, 2.9, 2.95],
  [0.8, 1.6, 1.85, 1.92, 1.96, 2.0],
  [-1.8, 0.2, 0.9, 0.95, 0.98, 1.0],
  [2.4, 1.6, 1.0, 0.98, 1.0, 1.02],
  [-0.5, -0.1, 0, 0, 0, 0],
  [1.0, 0.3, 0.05, 0.02, 0.01, 0.01],
  [-2.2, -1.2, -0.95, -0.97, -0.99, -1.0],
  [0.4, -0.6, -0.9, -0.96, -0.99, -1.02],
  [-1.4, -1.7, -1.82, -1.86, -1.88, -1.9],
  [-3.2, -2.3, -1.9, -1.88, -1.9, -1.92],
  [-1.0, -2.3, -2.75, -2.84, -2.88, -2.92],
  [-3.8, -3.2, -2.85, -2.86, -2.9, -2.94],
  [-2.5, -3.2, -3.6, -3.72, -3.78, -3.82],
  [-0.5, -2.5, -3.55, -3.7, -3.78, -3.84],
  [-3.0, -4, -4.55, -4.68, -4.75, -4.8],
  [-4.5, -4.6, -4.6, -4.7, -4.76, -4.82],
  [-2.0, -4, -5.4, -5.58, -5.66, -5.72],
  [-3.6, -5, -6.3, -6.52, -6.62, -6.7],
  [-5.0, -6, -6.4, -6.55, -6.64, -6.72],
  [-4.0, -6.5, -8.8, -9.2, -9.4, -9.6],
  [-4.5, -7.2, -8.9, -9.25, -9.42, -9.62],
  [-3.2, -6.0, -8.6, -9.2, -9.42, -9.58],
];

const rows = [
  [wilsonBlue, dbw2Blue],
  [wilsonRed, dbw2Red],
  [wilsonGreen, dbw2Green],
  [wilsonPurple, dbw2Purple],
];
const knotSets = [wilsonT, dbw2T];
const curves = [d3.curveBasis, d3.curveMonotoneX];

const W = 1137;
const H = 1364;
const colX = [76, 632];
const rowY = [34, 363, 692, 1021];
const PW = 495;
const PH = 286;

const sans = "'DejaVu Sans', sans-serif";
const serif = "'Liberation Serif', 'DejaVu Serif', serif";

const fmt = (v: number) => (v < 0 ? '\u2212' + Math.abs(v) : String(v));

export default function App() {
  const x = d3.scaleLinear().domain([0, 8]).range([0, PW]);
  const y = d3.scaleLinear().domain([-15, 15]).range([PH, 0]);

  const panels: any[] = [];
  rows.forEach((pair, r) => {
    pair.forEach((lines, c) => {
      const knots = knotSets[c];
      const line = d3
        .line<number>()
        .x((_, i) => x(knots[i]))
        .y((v) => y(v))
        .curve(curves[c]);
      const clipId = `clip-${r}-${c}`;
      panels.push(
        <g key={`${r}-${c}`} transform={`translate(${colX[c]},${rowY[r]})`}>
          <defs>
            <clipPath id={clipId}>
              <rect x={0} y={0} width={PW} height={PH} />
            </clipPath>
          </defs>
          {xTicks.map((t) => (
            <line key={'gx' + t} x1={x(t)} x2={x(t)} y1={0} y2={PH} stroke="#e3e3e3" strokeWidth={1} />
          ))}
          {yTicks.map((t) => (
            <line key={'gy' + t} x1={0} x2={PW} y1={y(t)} y2={y(t)} stroke="#e3e3e3" strokeWidth={1} />
          ))}
          <g clipPath={`url(#${clipId})`}>
            {lines.map((vals, i) => (
              <path
                key={i}
                d={line(vals) || ''}
                fill="none"
                stroke={rowColors[r]}
                strokeWidth={2.2}
                strokeLinejoin="round"
              />
            ))}
            <line
              x1={x(vlineT[r])}
              x2={x(vlineT[r])}
              y1={0}
              y2={PH}
              stroke="#666666"
              strokeWidth={3}
            />
          </g>
          <rect x={0} y={0} width={PW} height={PH} fill="none" stroke="#000" strokeWidth={1} />
          {xTicks.map((t) => (
            <g key={'tx' + t}>
              <line x1={x(t)} x2={x(t)} y1={PH} y2={PH + 4} stroke="#444" strokeWidth={1} />
              <text
                x={x(t)}
                y={PH + 21}
                textAnchor="middle"
                fontFamily={serif}
                fontSize={15}
                fill="#444"
              >
                {fmt(t)}
              </text>
            </g>
          ))}
          {yTicks.map((t) => (
            <g key={'ty' + t}>
              <line x1={-4} x2={0} y1={y(t)} y2={y(t)} stroke="#444" strokeWidth={1} />
              <text
                x={-6}
                y={y(t) + 5}
                textAnchor="end"
                fontFamily={serif}
                fontSize={15}
                fill="#444"
              >
                {fmt(t)}
              </text>
            </g>
          ))}
        </g>
      );
    });
  });

  return (
    <svg
      width={W}
      height={H}
      viewBox={`0 0 ${W} ${H}`}
      style={{ position: 'absolute', left: 0, top: 0, background: '#fff' }}
    >
      <rect x={0} y={0} width={W} height={H} fill="#fff" />
      {columnTitles.map((t, c) => (
        <text
          key={t}
          x={colX[c] + PW / 2}
          y={24}
          textAnchor="middle"
          fontFamily={sans}
          fontSize={18}
          fill="#000"
        >
          {t}
        </text>
      ))}
      {rowY.map((ry, r) => (
        <text
          key={'yl' + r}
          transform={`translate(24,${ry + PH / 2}) rotate(-90)`}
          textAnchor="middle"
          fontFamily={sans}
          fontSize={18}
          fill="#000"
        >
          Topological Charge{' '}
          <tspan fontFamily={serif} fontStyle="italic" fontSize={20}>
            Q
          </tspan>
        </text>
      ))}
      {colX.map((cx, c) => (
        <text
          key={'xl' + c}
          x={cx + PW / 2}
          y={1355}
          textAnchor="middle"
          fontFamily={sans}
          fontSize={18}
          fill="#000"
        >
          Flowtime{' '}
          <tspan fontFamily={serif} fontStyle="italic" fontSize={20}>
            t
          </tspan>
          <tspan fontFamily={serif} fontSize={20}>
            {' / '}
          </tspan>
          <tspan fontFamily={serif} fontStyle="italic" fontSize={20}>
            t
          </tspan>
          <tspan fontFamily={serif} fontSize={14} dy={4}>
            0
          </tspan>
        </text>
      ))}
      {panels}
    </svg>
  );
}
